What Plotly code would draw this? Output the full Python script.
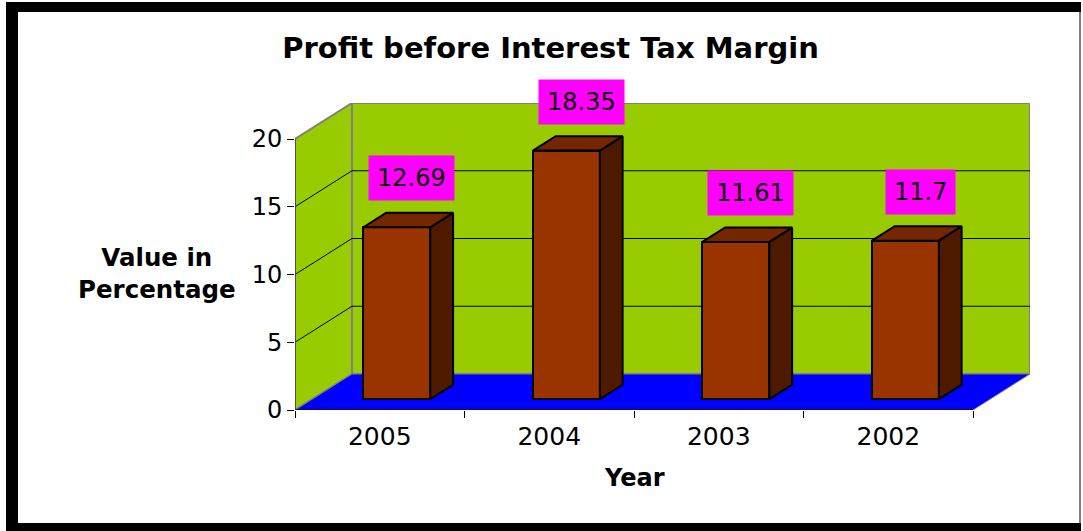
import plotly.graph_objects as go

# ---- data ----
years = ["2005", "2004", "2003", "2002"]
values = [12.69, 18.35, 11.61, 11.7]
y_ticks = [0, 5, 10, 15, 20]
title_text = "Profit before Interest Tax Margin"
x_title = "Year"
y_title = "Value in<br>Percentage"

# ---- styling / 3D projection constants ----
W, H = 1083, 531
ML, MR, MT, MB = 295, 53, 103, 121
DX, DY = 0.336, 2.657          # wall depth in axis units
F0, F1 = 0.3, 0.7              # bar depth span (fraction of wall depth)
BAR_W = 0.395
LABEL_DX, LABEL_DY = 0.19, 4.4
FRONT, SIDE, TOP = "#993300", "#4D1A00", "#732600"
WALL, FLOOR = "#99CC00", "#0000FF"
FONT = "DejaVu Sans"

n = len(years)
xmin, xmax = -0.5, n - 0.5
ymax = max(y_ticks)
ytop = ymax + DY
idx = list(range(n))

fig = go.Figure()

# front faces of the columns
fig.add_trace(go.Bar(
    x=[i + F0 * DX for i in idx], y=values, base=F0 * DY, width=BAR_W,
    marker=dict(color=FRONT, line=dict(color="black", width=2)),
    hoverinfo="skip", showlegend=False))

# side and top faces
sx, sy, tx, ty = [], [], [], []
ddx, ddy = (F1 - F0) * DX, (F1 - F0) * DY
for i, v in zip(idx, values):
    xl = i + F0 * DX - BAR_W / 2
    xr = i + F0 * DX + BAR_W / 2
    b = F0 * DY
    sx += [xr, xr, xr + ddx, xr + ddx, xr, None]
    sy += [b, b + v, b + v + ddy, b + ddy, b, None]
    tx += [xl, xr, xr + ddx, xl + ddx, xl, None]
    ty += [b + v, b + v, b + v + ddy, b + v + ddy, b + v, None]
fig.add_trace(go.Scatter(x=sx, y=sy, mode="lines", fill="toself", fillcolor=SIDE,
                         line=dict(color="black", width=2), hoverinfo="skip", showlegend=False))
fig.add_trace(go.Scatter(x=tx, y=ty, mode="lines", fill="toself", fillcolor=TOP,
                         line=dict(color="black", width=2), hoverinfo="skip", showlegend=False))
# dummy trace on the boundary-tick axis
fig.add_trace(go.Scatter(x=[None], y=[None], xaxis="x2", showlegend=False, hoverinfo="skip"))

shapes = []
# back wall
shapes.append(dict(type="rect", xref="x", yref="y", x0=xmin + DX, x1=xmax + DX, y0=DY, y1=ytop,
                   fillcolor=WALL, line=dict(color="#808080", width=2), layer="below"))
# left wall
shapes.append(dict(type="path", xref="x", yref="y",
                   path=f"M {xmin},0 L {xmin},{ymax} L {xmin+DX},{ytop} L {xmin+DX},{DY} Z",
                   fillcolor=WALL, line=dict(color="#808080", width=2), layer="below"))
# floor
shapes.append(dict(type="path", xref="x", yref="y",
                   path=f"M {xmin},0 L {xmax},0 L {xmax+DX},{DY} L {xmin+DX},{DY} Z",
                   fillcolor=FLOOR, line=dict(color="#808080", width=1), layer="below"))
# gridlines
for t in y_ticks[1:-1]:
    shapes.append(dict(type="line", xref="x", yref="y", x0=xmin + DX, x1=xmax + DX, y0=t + DY, y1=t + DY,
                       line=dict(color="black", width=1), layer="below"))
    shapes.append(dict(type="line", xref="x", yref="y", x0=xmin, x1=xmin + DX, y0=t, y1=t + DY,
                       line=dict(color="black", width=1), layer="below"))
# front axis lines
shapes.append(dict(type="line", xref="x", yref="y", x0=xmin, x1=xmax, y0=0, y1=0,
                   line=dict(color="black", width=1.5), layer="below"))
shapes.append(dict(type="line", xref="x", yref="y", x0=xmin, x1=xmin, y0=0, y1=ymax,
                   line=dict(color="#404040", width=1.5), layer="below"))

# outer frame (pixel -> paper)
pw, ph = W - ML - MR, H - MT - MB
def px(x): return (x - ML) / pw
def py(y): return (H - MB - y) / ph
shapes += [
    dict(type="rect", xref="paper", yref="paper", x0=px(6), x1=px(18), y0=py(2), y1=py(532),
         fillcolor="black", line=dict(width=0)),
    dict(type="rect", xref="paper", yref="paper", x0=px(6), x1=px(1081), y0=py(2), y1=py(12),
         fillcolor="black", line=dict(width=0)),
    dict(type="rect", xref="paper", yref="paper", x0=px(6), x1=px(1081), y0=py(523), y1=py(532),
         fillcolor="black", line=dict(width=0)),
    dict(type="line", xref="paper", yref="paper", x0=px(1080), x1=px(1080), y0=py(12), y1=py(523),
         line=dict(color="#808080", width=2)),
]

annotations = []
for i, v in zip(idx, values):
    annotations.append(dict(x=i + LABEL_DX, y=(v + LABEL_DY) / ytop, xref="x", yref="paper", text=str(v),
                            xanchor="center", yanchor="middle",
                            showarrow=False, bgcolor="#FF00FF", borderpad=8,
                            font=dict(family=FONT, size=24, color="black")))
annotations.append(dict(x=px(156.5), y=py(273.5), xref="paper", yref="paper", text=f"<b>{y_title}</b>",
                        showarrow=False, align="center", xanchor="center", yanchor="middle",
                        font=dict(family=FONT, size=24.5, color="black")))
annotations.append(dict(x=px(634), y=py(478), xref="paper", yref="paper", text=f"<b>{x_title}</b>",
                        showarrow=False, xanchor="center", yanchor="middle",
                        font=dict(family=FONT, size=24, color="black")))

fig.update_layout(
    width=W, height=H,
    margin=dict(l=ML, r=MR, t=MT, b=MB, pad=0),
    paper_bgcolor="white", plot_bgcolor="white",
    title=dict(text=f"<b>{title_text}</b>", x=550.5 / W, xref="container", xanchor="center",
               y=1 - 48 / H, yref="container", yanchor="middle",
               font=dict(family=FONT, size=29, color="black")),
    xaxis=dict(range=[xmin, xmax + DX], tickvals=idx, ticktext=years, ticks="outside", ticklen=4,
               tickcolor="rgba(0,0,0,0)", showline=False, showgrid=False, zeroline=False,
               tickfont=dict(family=FONT, size=25, color="black"), fixedrange=True),
    xaxis2=dict(range=[xmin, xmax + DX], overlaying="x", anchor="y", side="bottom",
                tickvals=[i - 0.5 for i in range(n + 1)], ticks="outside", ticklen=7, tickcolor="black",
                showticklabels=False, showline=False, showgrid=False, zeroline=False, fixedrange=True),
    yaxis=dict(range=[0, ytop], tickvals=y_ticks, ticks="outside", ticklen=7, tickcolor="black",
               showline=False, showgrid=False, zeroline=False,
               tickfont=dict(family=FONT, size=24, color="black"), fixedrange=True),
    shapes=shapes, annotations=annotations, showlegend=False, bargap=0,
)

fig.write_html("out.html", config={"displayModeBar": False},
               post_script="document.body.style.margin='0';document.body.style.overflow='hidden';")
